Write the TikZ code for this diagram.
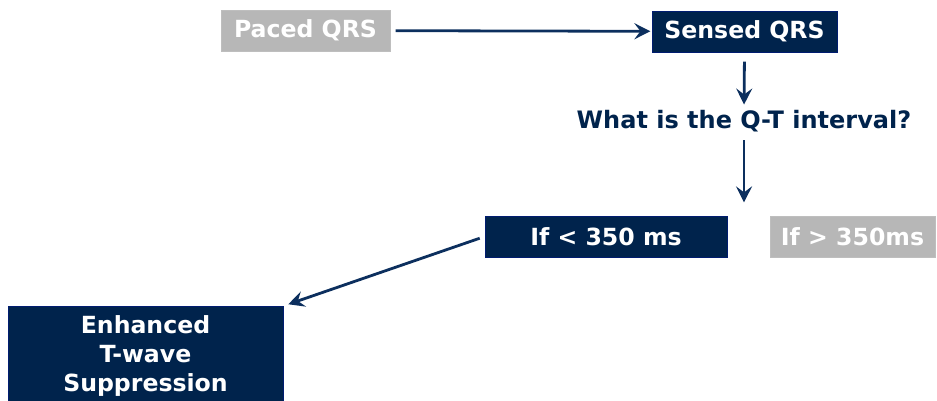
\documentclass[tikz,border=0pt]{standalone}
\usepackage{fontspec}
\setmainfont{DejaVu Sans}
\usetikzlibrary{arrows.meta,positioning}
\definecolor{cNavy}{HTML}{00234C}
\definecolor{cLine}{HTML}{0C2F5E}
\definecolor{cGrey}{HTML}{B7B7B7}
\tikzset{
  box/.style={rectangle, align=center, font=\bfseries\fontsize{17.7}{21.75}\selectfont,
    text=white, inner sep=0pt},
  navybox/.style={box, fill=cNavy, draw=cNavy!80!blue},
  greybox/.style={box, fill=cGrey, draw=cGrey!90!white},
  flow/.style={-{Stealth[length=12pt, width=12pt, inset=4.5pt]}, line width=2.1pt, draw=cLine},
  question/.style={font=\bfseries\fontsize{18}{21}\selectfont, text=cNavy, inner sep=0pt},
}
\begin{document}
\begin{tikzpicture}[x=0.75pt, y=-0.75pt]
    \useasboundingbox (0,0) rectangle (937,400);
    \node[greybox, minimum width=126.75pt, minimum height=30.75pt] (paced) at (305.5,30.5) {Paced QRS};
    \node[navybox, minimum width=138.75pt, minimum height=30.75pt] (sensed) at (744.5,31.5) {Sensed QRS};
    \node[question] (qt) at (744,121) {What is the Q-T interval?};
    \node[navybox, minimum width=181.5pt, minimum height=30.75pt] (short) at (606,236.5) {If < 350 ms};
    \node[greybox, minimum width=123.75pt, minimum height=30.75pt] (long) at (852.5,236.5) {If > 350ms};
    \node[navybox, minimum width=206.25pt, minimum height=75pt, anchor=north] (etws) at (145.5,306)
      {Enhanced\\T-wave\\Suppression};
    % arrows
    \draw[flow, shorten <=4pt, shorten >=1pt] (paced) -- (sensed);
    \draw[flow, shorten <=7pt, shorten >=4pt] (sensed.south) -- (qt.north);
    \draw[flow, shorten <=6pt, shorten >=10pt] (qt.south) -- (short.north -| qt);
    \draw[flow, shorten <=4pt, shorten >=4pt] (short.west) -- (etws.north east);
\end{tikzpicture}
\end{document}
